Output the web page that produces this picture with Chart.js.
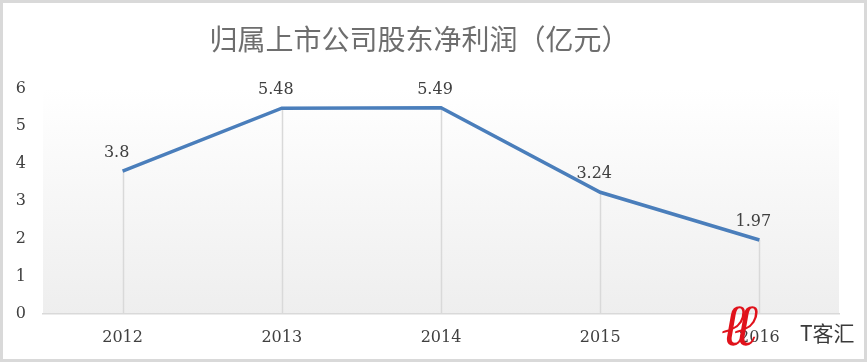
<!DOCTYPE html>
<html>
<head>
<meta charset="utf-8">
<script src="https://cdn.jsdelivr.net/npm/chart.js@4"></script>
<style>
  body { margin: 0; background: #fff; }
  #wrap { position: relative; width: 867px; height: 362px; }
  .logo { position: absolute; left: 722px; top: 296px; color: #e0121b; font: italic bold 58px "DejaVu Serif", serif; letter-spacing: -12px; line-height: 1; }
  .txt { position: absolute; left: 800px; top: 322px; color: #3a3a3a; font: 21px "Noto Sans CJK SC", sans-serif; line-height: 1; }
</style>
</head>
<body>
<div id="wrap">
  <canvas id="netProfitChart" width="867" height="362"></canvas>
  <span class="logo">ℓℓ</span><span class="txt">T客汇</span>
</div>
<script>
// 数据
const years = ["2012", "2013", "2014", "2015", "2016"];
const profit = [3.8, 5.48, 5.49, 3.24, 1.97];
const yTicks = [0, 1, 2, 3, 4, 5, 6];

// 外框、绘图区渐变背景
const backdrop = {
  id: "backdrop",
  beforeDraw(chart) {
    const { ctx, width, height, chartArea: a } = chart;
    ctx.save();
    ctx.fillStyle = "#fff";
    ctx.fillRect(0, 0, width, height);
    ctx.strokeStyle = "#d9d9d9";
    ctx.lineWidth = 3;
    ctx.strokeRect(1.5, 1.5, width - 3, height - 3);
    const g = ctx.createLinearGradient(0, a.top, 0, a.bottom);
    g.addColorStop(0, "#ffffff");
    g.addColorStop(1, "#eeeeee");
    ctx.fillStyle = g;
    ctx.fillRect(a.left, a.top, a.right - a.left, a.bottom - a.top);
    ctx.restore();
  },
};

// 垂直线 + 数据标签
const dropLines = {
  id: "dropLines",
  beforeDatasetsDraw(chart) {
    const { ctx, chartArea: a } = chart;
    const pts = chart.getDatasetMeta(0).data;
    ctx.save();
    ctx.strokeStyle = "#d9d9d9";
    ctx.lineWidth = 1.5;
    pts.forEach((p) => {
      ctx.beginPath();
      ctx.moveTo(Math.round(p.x) + 0.5, p.y);
      ctx.lineTo(Math.round(p.x) + 0.5, a.bottom);
      ctx.stroke();
    });
    ctx.restore();
  },
  afterDatasetsDraw(chart) {
    const { ctx } = chart;
    const pts = chart.getDatasetMeta(0).data;
    ctx.save();
    ctx.fillStyle = "#404040";
    ctx.font = "16px 'DejaVu Serif', serif";
    ctx.textAlign = "center";
    ctx.textBaseline = "middle";
    pts.forEach((p, i) => {
      ctx.fillText(String(profit[i]), p.x - 6, p.y - 18);
    });
    ctx.restore();
  },
};

new Chart(document.getElementById("netProfitChart").getContext("2d"), {
  type: "line",
  data: {
    labels: years,
    datasets: [
      {
        data: profit,
        borderColor: "#4a7ebb",
        borderWidth: 3.5,
        pointRadius: 0,
        tension: 0,
      },
    ],
  },
  options: {
    responsive: false,
    animation: false,
    layout: { padding: { top: 0, right: 28, bottom: 0, left: 0 } },
    plugins: {
      legend: { display: false },
      tooltip: { enabled: false },
      title: {
        display: true,
        text: "归属上市公司股东净利润（亿元）",
        color: "#6e6e6e",
        font: { family: "'Noto Sans CJK SC', sans-serif", size: 28, weight: "normal" },
        padding: { top: 23, bottom: 32 },
      },
    },
    scales: {
      x: {
        offset: true,
        grid: { display: false, drawTicks: false },
        border: { display: true, color: "#d9d9d9", width: 1.5 },
        ticks: {
          color: "#404040",
          font: { family: "'DejaVu Serif', serif", size: 16 },
          padding: 14,
        },
        afterFit(axis) { axis.height = 48; },
      },
      y: {
        min: 0,
        max: 6,
        afterBuildTicks(axis) { axis.ticks = yTicks.map((v) => ({ value: v })); },
        grid: { display: false, drawTicks: false },
        border: { display: false },
        ticks: {
          color: "#404040",
          font: { family: "'DejaVu Serif', serif", size: 16 },
          padding: 17,
        },
        afterFit(axis) { axis.width = 43; },
      },
    },
  },
  plugins: [backdrop, dropLines],
});
</script>
</body>
</html>
